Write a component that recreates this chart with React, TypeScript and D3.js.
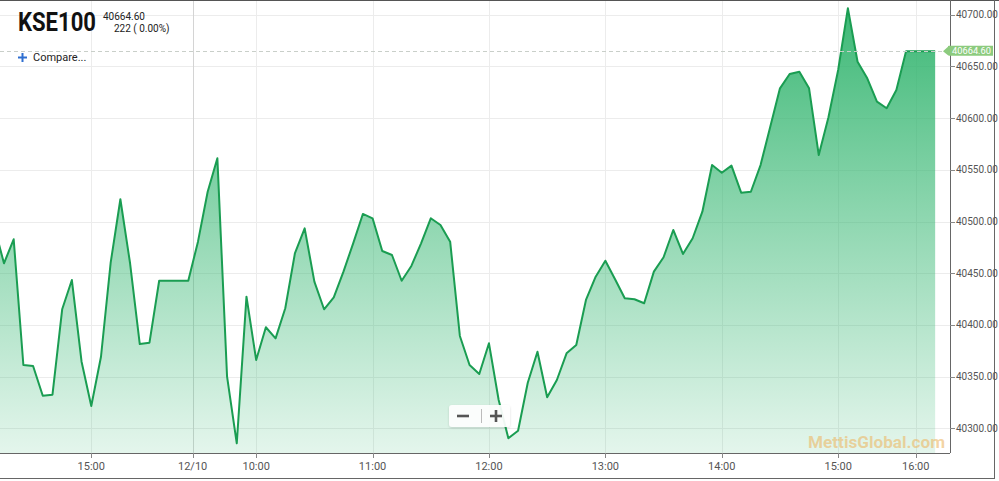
import React from "react";
import * as d3 from "d3";

// ---- data (ordinal index axis: one point per 5-minute bar) ----
const values: number[] = [
  40495.0, 40459.6, 40482.8, 40361.2, 40360.3, 40331.5, 40332.5, 40415.1, 40443.4, 40364.4,
  40321.6, 40369.2, 40460.2, 40521.5, 40459.6, 40381.5, 40382.8, 40442.7, 40442.7, 40442.7,
  40442.7, 40480.5, 40528.8, 40561.1, 40349.9, 40285.5, 40427.3, 40366.1, 40397.7, 40387.0,
  40416.1, 40469.5, 40493.4, 40441.8, 40415.1, 40426.7, 40451.5, 40478.9, 40507.3, 40503.1,
  40471.5, 40467.6, 40442.7, 40457.0, 40478.9, 40503.1, 40496.6, 40480.5, 40389.3, 40361.2,
  40352.5, 40382.2, 40327.4, 40290.3, 40297.7, 40344.1, 40374.1, 40330.0, 40346.7, 40372.5,
  40380.6, 40424.1, 40446.6, 40462.1, 40444.1, 40425.7, 40424.8, 40420.9, 40451.5, 40465.4,
  40491.8, 40468.6, 40483.8, 40509.5, 40554.6, 40547.2, 40554.0, 40527.9, 40528.8, 40554.6,
  40591.7, 40628.8, 40642.6, 40644.9, 40628.8, 40564.3, 40600.8, 40646.5, 40706.2, 40654.5,
  40638.5, 40615.9, 40609.5, 40627.2, 40664.6, 40664.6, 40664.6, 40664.6,
];
const firstIndex = -1;

const yTicks: number[] = [40300, 40350, 40400, 40450, 40500, 40550, 40600, 40650, 40700];
const xTickLabels: string[] = ["15:00", "12/10", "10:00", "11:00", "12:00", "13:00", "14:00", "15:00", "16:00"];
const xTickIndex: number[] = [9, 19.45, 26, 38, 50, 62, 74, 86, 94];

const lastValue = 40664.6;
const title = "KSE100";
const changeText = "222 ( 0.00%)";

export default function App() {
  const W = 999;
  const H = 481;
  const plotL = 0;
  const plotR = 950;
  const plotT = 0;
  const plotB = 453;

  const x = d3.scaleLinear().domain([-0.41, 97.53]).range([plotL, plotR]);
  const y = d3.scaleLinear().domain([40300, 40700]).range([428.3, 14.7]);

  const pts = values.map((v, k) => ({ i: firstIndex + k, v }));
  const line = d3.line<{ i: number; v: number }>().x((d) => x(d.i)).y((d) => y(d.v));
  const area = d3
    .area<{ i: number; v: number }>()
    .x((d) => x(d.i))
    .y0(plotB)
    .y1((d) => y(d.v));

  const lastY = y(lastValue);

  return (
    <svg
      width={W}
      height={H}
      style={{ position: "absolute", left: 0, top: 0, fontFamily: "Roboto, 'Noto Sans', sans-serif" }}
    >
      <defs>
        <linearGradient id="fillGrad" gradientUnits="userSpaceOnUse" x1="0" y1={plotT} x2="0" y2={plotB}>
          <stop offset="0" stopColor="#2fb36c" stopOpacity={0.95} />
          <stop offset="1" stopColor="#3dbb78" stopOpacity={0.14} />
        </linearGradient>
        <clipPath id="plotClip">
          <rect x={plotL} y={plotT} width={plotR - plotL} height={plotB - plotT} />
        </clipPath>
        <filter id="shadow" x="-20%" y="-30%" width="140%" height="160%">
          <feDropShadow dx="0" dy="1" stdDeviation="1" floodColor="#000" floodOpacity="0.15" />
        </filter>
      </defs>
      <rect x={0} y={0} width={W} height={H} fill="#fff" />

      {/* horizontal grid */}
      {yTicks.map((t) => (
        <line key={"gy" + t} x1={plotL} x2={plotR} y1={Math.round(y(t)) + 0.5} y2={Math.round(y(t)) + 0.5} stroke="#ececec" />
      ))}
      {/* vertical grid */}
      {xTickIndex.map((t, k) => (
        <line
          key={"gx" + k}
          x1={Math.round(x(t)) + 0.5}
          x2={Math.round(x(t)) + 0.5}
          y1={plotT}
          y2={plotB}
          stroke={xTickLabels[k].includes("/") ? "#d4d4d4" : "#ececec"}
        />
      ))}

      <g clipPath="url(#plotClip)">
        <path d={area(pts) || ""} fill="url(#fillGrad)" />
        <path d={line(pts) || ""} fill="none" stroke="#1a9d52" strokeWidth={2} strokeLinejoin="round" />
      </g>

      {/* last price dashed line */}
      <line x1={plotL} x2={plotR} y1={Math.round(lastY) + 0.5} y2={Math.round(lastY) + 0.5} stroke="#c9cfc9" strokeDasharray="4,3" />

      {/* axes lines */}
      <line x1={0} x2={W} y1={0.5} y2={0.5} stroke="#555" />
      <line x1={plotR + 0.5} x2={plotR + 0.5} y1={0} y2={plotB} stroke="#666" />
      <line x1={0} x2={plotR} y1={plotB + 0.5} y2={plotB + 0.5} stroke="#666" />
      <line x1={0} x2={994} y1={478.5} y2={478.5} stroke="#666" />
      <line x1={994.5} x2={994.5} y1={0} y2={479} stroke="#666" />

      {/* y axis ticks & labels */}
      {yTicks.map((t) => (
        <g key={"yt" + t}>
          <line x1={plotR} x2={plotR + 5} y1={Math.round(y(t)) + 0.5} y2={Math.round(y(t)) + 0.5} stroke="#888" />
          <text x={956} y={y(t) + 3.5} fontSize={10} fill="#555">
            {t.toFixed(2)}
          </text>
        </g>
      ))}

      {/* x axis ticks & labels */}
      {xTickIndex.map((t, k) => (
        <g key={"xt" + k}>
          <line x1={Math.round(x(t)) + 0.5} x2={Math.round(x(t)) + 0.5} y1={plotB} y2={plotB + 5} stroke="#888" />
          <text x={x(t)} y={469.5} fontSize={11} fill="#555" textAnchor="middle">
            {xTickLabels[k]}
          </text>
        </g>
      ))}

      {/* last price badge */}
      <path
        d={`M${plotR - 7},${lastY} L${plotR - 2},${lastY - 4.5} L${plotR - 2},${lastY - 5} Q${plotR - 2},${lastY - 5.5} ${plotR - 1},${lastY - 5.5} L${993},${lastY - 5.5} L${993},${lastY + 4.5} L${plotR - 1},${lastY + 4.5} L${plotR - 2},${lastY + 4} Z`}
        fill="#8ccb7e"
      />
      <text x={952} y={lastY + 3} fontSize={9.5} fill="#fff" textLength={39} lengthAdjust="spacingAndGlyphs">
        {lastValue.toFixed(2)}
      </text>

      {/* title block */}
      <text x={18} y={31} fontSize={25} fontWeight={700} fill="#111" textLength={78} lengthAdjust="spacingAndGlyphs">
        {title}
      </text>
      <text x={103} y={19.5} fontSize={10} fill="#222">
        {lastValue.toFixed(2)}
      </text>
      <text x={114} y={31.5} fontSize={10} fill="#222">
        {changeText}
      </text>
      <g stroke="#2f6fd0" strokeWidth={2}>
        <line x1={18} x2={27} y1={57.5} y2={57.5} />
        <line x1={22.5} x2={22.5} y1={53} y2={62} />
      </g>
      <text x={33} y={61} fontSize={11} fill="#222">
        Compare...
      </text>

      {/* zoom buttons */}
      <rect x={449} y={405} width={61} height={22} rx={3} fill="#fff" fillOpacity={0.92} filter="url(#shadow)" />
      <line x1={457} x2={469} y1={416} y2={416} stroke="#555" strokeWidth={2.6} />
      <line x1={481.5} x2={481.5} y1={409} y2={423} stroke="#bbb" />
      <line x1={490} x2={502} y1={416} y2={416} stroke="#555" strokeWidth={2.6} />
      <line x1={496} x2={496} y1={410} y2={422} stroke="#555" strokeWidth={2.6} />

      {/* watermark */}
      <text x={808} y={447.5} fontSize={16} fontWeight={700} fill="#ecb866" fillOpacity={0.6} textLength={137} lengthAdjust="spacingAndGlyphs">
        MettisGlobal.com
      </text>
    </svg>
  );
}
